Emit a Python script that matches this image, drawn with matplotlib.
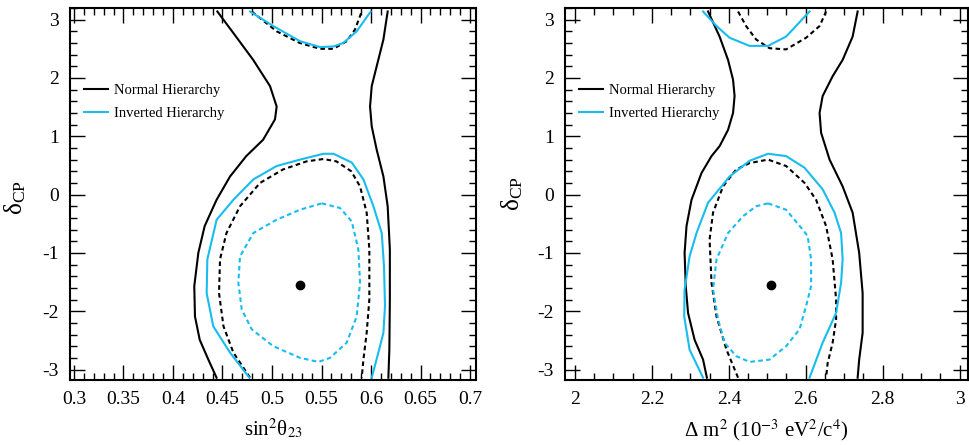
import numpy as np
import matplotlib
matplotlib.use("Agg")
import matplotlib.pyplot as plt
from matplotlib.ticker import MultipleLocator

plt.rcParams['font.family'] = ['Liberation Serif', 'DejaVu Serif']
plt.rcParams['mathtext.fontset'] = 'stix'
plt.rcParams['axes.unicode_minus'] = False

blue = '#18bcef'

# ---- left panel: sin^2(theta23) vs delta_CP ----
# normal hierarchy, outer (solid) contour, two branches
nh_out_l_x = [0.4448, 0.461, 0.481, 0.498, 0.5047, 0.503, 0.491, 0.474, 0.4576, 0.444, 0.432, 0.4256, 0.4215, 0.4222, 0.427, 0.4357, 0.444]
nh_out_l_y = [3.14, 2.77, 2.31, 1.86, 1.51, 1.29, 0.94, 0.66, 0.31, -0.09, -0.54, -1.0, -1.57, -2.09, -2.49, -2.83, -3.14]
nh_out_r_x = [0.6168, 0.6125, 0.6057, 0.6007, 0.599, 0.6007, 0.6057, 0.6125, 0.6168, 0.619, 0.619, 0.6185, 0.6175]
nh_out_r_y = [3.14, 2.66, 2.2, 1.86, 1.51, 1.17, 0.77, 0.31, -0.2, -0.94, -1.8, -2.66, -3.14]
# normal hierarchy, inner (dashed) contour
nh_in_bot_x = [0.4778, 0.461, 0.451, 0.4465, 0.4475, 0.454, 0.4677, 0.4879, 0.511, 0.535, 0.5519, 0.565, 0.580, 0.5889, 0.5956, 0.5983, 0.5983, 0.5956, 0.5923, 0.5906]
nh_in_bot_y = [-3.14, -2.71, -2.26, -1.69, -1.11, -0.66, -0.2, 0.2, 0.43, 0.57, 0.61, 0.57, 0.4, 0.14, -0.31, -0.94, -1.8, -2.37, -2.83, -3.14]
nh_in_top_x = [0.4795, 0.5047, 0.528, 0.5485, 0.562, 0.5754, 0.5838, 0.5906]
nh_in_top_y = [3.14, 2.8, 2.6, 2.5, 2.5, 2.63, 2.83, 3.14]
# inverted hierarchy, outer (solid) contour
ih_out_bot_x = [0.4771, 0.4576, 0.4407, 0.434, 0.4347, 0.4441, 0.461, 0.4811, 0.5047, 0.5283, 0.5519, 0.562, 0.5805, 0.5923, 0.6024, 0.6108, 0.6131, 0.6141, 0.6125, 0.6074, 0.6007]
ih_out_bot_y = [-3.14, -2.71, -2.26, -1.69, -1.11, -0.43, -0.09, 0.26, 0.49, 0.6, 0.70, 0.70, 0.55, 0.26, -0.2, -0.66, -1.23, -1.91, -2.37, -2.71, -3.14]
ih_out_top_x = [0.4778, 0.5013, 0.5283, 0.5485, 0.562, 0.572, 0.5855, 0.5997]
ih_out_top_y = [3.14, 2.89, 2.63, 2.53, 2.54, 2.6, 2.8, 3.14]
# inverted hierarchy, inner (dashed) contour
ih_in_x = [0.5502, 0.5687, 0.5805, 0.5872, 0.5889, 0.5855, 0.5754, 0.5586, 0.5468, 0.5283, 0.5013, 0.4795, 0.4694, 0.466, 0.4677, 0.4811, 0.5047, 0.5283, 0.5502]
ih_in_y = [-0.15, -0.23, -0.46, -0.94, -1.51, -2.09, -2.54, -2.8, -2.87, -2.8, -2.6, -2.31, -1.97, -1.51, -1.06, -0.66, -0.43, -0.26, -0.15]
best_left = (0.528, -1.55)

# ---- right panel: delta m^2 vs delta_CP ----
r_nh_out_l_x = [2.346, 2.376, 2.398, 2.411, 2.415, 2.411, 2.398, 2.376, 2.355, 2.329, 2.303, 2.29, 2.285, 2.288, 2.294, 2.311, 2.333, 2.343]
r_nh_out_l_y = [3.14, 2.71, 2.31, 1.97, 1.69, 1.4, 1.11, 0.83, 0.66, 0.37, -0.09, -0.54, -1.0, -1.57, -2.03, -2.49, -2.83, -3.14]
r_nh_out_r_x = [2.735, 2.722, 2.696, 2.67, 2.644, 2.636, 2.64, 2.662, 2.696, 2.722, 2.739, 2.748, 2.748, 2.739, 2.735]
r_nh_out_r_y = [3.14, 2.71, 2.31, 2.03, 1.69, 1.4, 1.06, 0.6, 0.14, -0.31, -1.0, -1.69, -2.37, -2.83, -3.14]
r_nh_in_bot_x = [2.424, 2.394, 2.368, 2.355, 2.35, 2.359, 2.385, 2.419, 2.454, 2.502, 2.549, 2.597, 2.627, 2.653, 2.67, 2.679, 2.679, 2.67, 2.657, 2.653]
r_nh_in_bot_y = [-3.14, -2.66, -2.09, -1.51, -0.77, -0.31, 0.14, 0.43, 0.54, 0.6, 0.49, 0.2, -0.09, -0.54, -1.11, -1.8, -2.14, -2.54, -2.89, -3.14]
r_nh_in_top_x = [2.424, 2.445, 2.471, 2.506, 2.549, 2.601, 2.636, 2.653]
r_nh_in_top_y = [3.14, 2.89, 2.66, 2.51, 2.49, 2.69, 2.89, 3.14]
r_ih_out_top_x = [2.333, 2.368, 2.402, 2.454, 2.502, 2.549, 2.61]
r_ih_out_top_y = [3.14, 2.89, 2.69, 2.55, 2.55, 2.71, 3.14]
r_ih_out_bot_x = [2.333, 2.298, 2.284, 2.285, 2.298, 2.316, 2.346, 2.402, 2.454, 2.502, 2.549, 2.597, 2.644, 2.675, 2.692, 2.696, 2.692, 2.679, 2.644, 2.61]
r_ih_out_bot_y = [-3.14, -2.66, -2.09, -1.63, -1.06, -0.66, -0.14, 0.31, 0.58, 0.70, 0.66, 0.46, 0.09, -0.31, -0.66, -1.11, -1.51, -2.03, -2.54, -3.14]
r_ih_in_x = [2.502, 2.549, 2.592, 2.605, 2.614, 2.614, 2.601, 2.584, 2.549, 2.506, 2.454, 2.419, 2.389, 2.372, 2.359, 2.368, 2.398, 2.437, 2.471, 2.502]
r_ih_in_y = [-0.15, -0.26, -0.6, -0.71, -1.11, -1.57, -1.91, -2.31, -2.6, -2.83, -2.87, -2.77, -2.54, -2.14, -1.63, -1.11, -0.66, -0.37, -0.2, -0.15]
best_right = (2.51, -1.55)

W, H = 969, 445
fig = plt.figure(figsize=(W / 100, H / 100), dpi=100)
ax1 = fig.add_axes([70 / W, 1 - 380 / H, 406 / W, 372 / H])
ax2 = fig.add_axes([565 / W, 1 - 380 / H, 403 / W, 372 / H])

lw = 1.5
dash = (0, (2.2, 1.6))


def style_axes(ax, xmaj, xmin):
    ax.xaxis.set_major_locator(MultipleLocator(xmaj))
    ax.xaxis.set_minor_locator(MultipleLocator(xmin))
    ax.yaxis.set_major_locator(MultipleLocator(1))
    ax.yaxis.set_minor_locator(MultipleLocator(0.2))
    ax.tick_params(which='both', direction='in', top=True, right=True,
                   labelsize=14, width=1.0, pad=8)
    ax.tick_params(which='major', length=11)
    ax.tick_params(which='minor', length=5)
    for s in ax.spines.values():
        s.set_linewidth(1.5)
    ax.set_ylim(-3.18, 3.2)


# left
ax1.plot(nh_out_l_x, nh_out_l_y, color='black', lw=lw, label='Normal Hierarchy')
ax1.plot(nh_out_r_x, nh_out_r_y, color='black', lw=lw)
ax1.plot(nh_in_bot_x, nh_in_bot_y, color='black', lw=lw, ls=dash)
ax1.plot(nh_in_top_x, nh_in_top_y, color='black', lw=lw, ls=dash)
ax1.plot(ih_out_bot_x, ih_out_bot_y, color=blue, lw=lw, label='Inverted Hierarchy')
ax1.plot(ih_out_top_x, ih_out_top_y, color=blue, lw=lw)
ax1.plot(ih_in_x, ih_in_y, color=blue, lw=lw, ls=dash)
ax1.plot(*best_left, 'o', color='black', ms=6)
style_axes(ax1, 0.05, 0.01)
ax1.set_xlim(0.296, 0.706)
ax1.set_xticks([0.3, 0.35, 0.4, 0.45, 0.5, 0.55, 0.6, 0.65, 0.7])
ax1.set_xticklabels(['0.3', '0.35', '0.4', '0.45', '0.5', '0.55', '0.6', '0.65', '0.7'])
ax1.set_xlabel('sin$^{2}$θ$_{23}$', fontsize=15)
ax1.set_ylabel('δ$_{\\mathregular{CP}}$', fontsize=18)
ax1.xaxis.set_label_coords(0.5, -0.1)
ax1.yaxis.set_label_coords(-0.103, 0.49)

# right
ax2.plot(r_nh_out_l_x, r_nh_out_l_y, color='black', lw=lw, label='Normal Hierarchy')
ax2.plot(r_nh_out_r_x, r_nh_out_r_y, color='black', lw=lw)
ax2.plot(r_nh_in_bot_x, r_nh_in_bot_y, color='black', lw=lw, ls=dash)
ax2.plot(r_nh_in_top_x, r_nh_in_top_y, color='black', lw=lw, ls=dash)
ax2.plot(r_ih_out_bot_x, r_ih_out_bot_y, color=blue, lw=lw, label='Inverted Hierarchy')
ax2.plot(r_ih_out_top_x, r_ih_out_top_y, color=blue, lw=lw)
ax2.plot(r_ih_in_x, r_ih_in_y, color=blue, lw=lw, ls=dash)
ax2.plot(*best_right, 'o', color='black', ms=6)
style_axes(ax2, 0.2, 0.05)
ax2.set_xlim(1.974, 3.022)
ax2.set_xticks([2, 2.2, 2.4, 2.6, 2.8, 3])
ax2.set_xticklabels(['2', '2.2', '2.4', '2.6', '2.8', '3'])
ax2.set_xlabel('Δ m$^{2}$ (10$^{-3}$ eV$^{2}$/c$^{4}$)', fontsize=15)
ax2.set_ylabel('δ$_{\\mathregular{CP}}$', fontsize=18)
ax2.xaxis.set_label_coords(0.5, -0.1)
ax2.yaxis.set_label_coords(-0.099, 0.5)

for ax in (ax1, ax2):
    ax.legend(loc='upper left', bbox_to_anchor=(0.035, 0.797), frameon=False,
              fontsize=10.5, handlelength=1.65, handletextpad=0.4,
              labelspacing=0.7, borderpad=0, borderaxespad=0)

fig.savefig('out.png', dpi=100)
